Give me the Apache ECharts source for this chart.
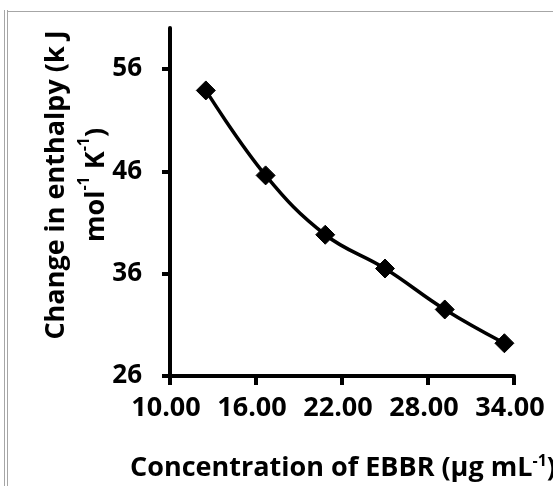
<!DOCTYPE html>
<html>
<head>
<meta charset="utf-8">
<script src="https://cdn.jsdelivr.net/npm/echarts@6/dist/echarts.min.js"></script>
<style>
html,body{margin:0;padding:0;background:#fff;}
#chart{width:553px;height:486px;}
</style>
</head>
<body>
<div id="chart"></div>
<script>
// Data
const concentration = [12.50, 16.67, 20.83, 25.00, 29.17, 33.33];
const enthalpy = [53.9, 45.6, 39.8, 36.5, 32.5, 29.2];
const xTicks = [10, 16, 22, 28, 34];
const yTicks = [26, 36, 46, 56];

const FONT = '"Open Sans"';
const chart = echarts.init(document.getElementById('chart'), null, {renderer: 'canvas'});

const points = concentration.map((x, i) => [x, enthalpy[i]]);
const supStyle = {fontFamily: FONT, fontWeight: 'bold', fontSize: 16, color: '#000', verticalAlign: 'top'};

chart.setOption({
  backgroundColor: '#ffffff',
  animation: false,
  grid: {left: 170, top: 28, right: 39, bottom: 110, containLabel: false, outerBoundsMode: 'none'},
  xAxis: {
    type: 'value',
    min: 10, max: 34,
    name: 'Concentration of EBBR (µg mL{sup|-1})',
    nameLocation: 'middle',
    nameGap: 77,
    nameMoveOverlap: false,
    nameTextStyle: {
      fontFamily: FONT, fontWeight: 'bold', fontSize: 27, color: '#000',
      padding: [0, 0, 0, 2],
      rich: {sup: Object.assign({lineHeight: 30}, supStyle)}
    },
    axisLine: {show: true, lineStyle: {color: '#000', width: 4}},
    axisTick: {show: true, customValues: xTicks, length: 9, lineStyle: {color: '#000', width: 4}},
    axisLabel: {
      customValues: xTicks,
      formatter: v => v.toFixed(2),
      fontFamily: FONT, fontWeight: 'bold', fontSize: 27, color: '#000',
      margin: 19, padding: [0, 8, 0, 0]
    },
    splitLine: {show: false}
  },
  yAxis: {
    type: 'value',
    min: 26, max: 60,
    name: 'Change in enthalpy (k J\nmol{sup|-1} K{sup|-1})',
    nameLocation: 'middle',
    nameRotate: 90,
    nameGap: 54,
    nameMoveOverlap: false,
    nameTextStyle: {
      fontFamily: FONT, fontWeight: 'bold', fontSize: 27, color: '#000', lineHeight: 40, align: 'center',
      padding: [0, 0, 0, 34],
      rich: {
        sup: Object.assign({lineHeight: 38}, supStyle)
      }
    },
    axisLine: {show: true, lineStyle: {color: '#000', width: 4}},
    axisTick: {show: true, customValues: yTicks, length: 8, lineStyle: {color: '#000', width: 4}},
    axisLabel: {
      customValues: yTicks,
      fontFamily: FONT, fontWeight: 'bold', fontSize: 26, color: '#000',
      margin: 28
    },
    splitLine: {show: false}
  },
  series: [{
    type: 'line',
    data: points,
    smooth: 0.4,
    symbol: 'diamond',
    symbolSize: 19,
    showAllSymbol: true,
    lineStyle: {color: '#000', width: 3.5},
    itemStyle: {color: '#000', borderColor: '#000'},
    z: 3
  }],
  graphic: [
    {type: 'line', shape: {x1: 4.5, y1: 10, x2: 4.5, y2: 486}, style: {stroke: '#a6a6a6', lineWidth: 1}, silent: true},
    {type: 'line', shape: {x1: 7.5, y1: 10, x2: 7.5, y2: 486}, style: {stroke: '#a6a6a6', lineWidth: 1}, silent: true},
    {type: 'line', shape: {x1: 7, y1: 11.5, x2: 553, y2: 11.5}, style: {stroke: '#a6a6a6', lineWidth: 1}, silent: true}
  ]
});
</script>
</body>
</html>
